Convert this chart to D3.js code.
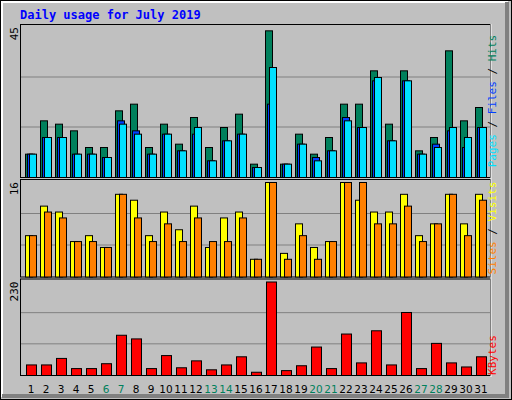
<!DOCTYPE html>
<html><head><meta charset="utf-8">
<script src="https://cdn.jsdelivr.net/npm/d3@7"></script>
<style>body{margin:0}svg{display:block}</style></head>
<body><svg id="c" width="512" height="400"></svg>
<script>
const days = d3.range(1,32);
const weekends = [6,7,13,14,20,21,27,28];
const hits  = [7,17,16,14,9,9,20,22,9,16,10,18,9,15,19,4,44,4,13,7,12,22,22,32,16,32,8,12,38,17,21];
const files = [7,12,12,7,7,6,16,13,7,13,8,15,5,11,13,3,33,4,10,5,8,17,15,30,11,29,7,9,15,12,15];
const pages = [7,12,12,7,7,6,17,14,7,13,8,13,5,11,13,3,22,4,10,6,8,18,15,29,11,29,7,10,14,9,15];
const visits= [7,12,11,6,7,5,14,13,7,11,8,12,5,10,11,3,16,4,9,5,6,16,13,11,11,14,7,9,14,9,14];
const sites = [7,11,10,6,6,5,14,10,6,9,6,10,6,6,10,3,16,3,7,3,6,16,16,9,9,12,6,9,14,7,13];
const kbytes= [26,26,42,17,17,29,99,90,17,49,19,36,14,26,46,8,230,12,24,70,17,102,31,110,26,155,17,79,31,21,46];
const maxLabels = ["45","16","230"];

const svg = d3.select("#c");
svg.append("rect").attr("width",512).attr("height",400).attr("fill","#c0c0c0");
svg.append("rect").attr("x",0.5).attr("y",0.5).attr("width",511).attr("height",399).attr("fill","none").attr("stroke","#000");
svg.append("path").attr("d","M2,397V2H508").attr("stroke","#fff").attr("fill","none").attr("stroke-width",2);
svg.append("path").attr("d","M507,2V396H2").attr("stroke","#808080").attr("fill","none").attr("stroke-width",4);
svg.append("text").attr("x",20).attr("y",19).text("Daily usage for July 2019")
  .attr("font-family","DejaVu Sans Mono").attr("font-weight","bold").attr("font-size",12).attr("fill","#0000ff");

const x = d3.scaleLinear().domain([1,32]).range([25,490]);
const panels = [
  {top:25,bot:177,max:45},
  {top:180,bot:276.5,max:16},
  {top:279.5,bot:375,max:230}
];
panels.forEach(p=>{
  p.y = d3.scaleLinear().domain([0,p.max]).range([p.bot,p.top+2]);
  svg.append("rect").attr("x",20.5).attr("y",p.top-20>0?p.top-0.5:p.top).attr("width",470).attr("height",p.bot-p.top+1)
    .attr("fill","#c0c0c0").attr("stroke","#000");
  [1/3,2/3].forEach(f=>{
    svg.append("line").attr("x1",21).attr("x2",490).attr("y1",p.y(p.max*f)).attr("y2",p.y(p.max*f)).attr("stroke","#808080");
  });
});
// left-side light frame lines
svg.append("line").attr("x1",491).attr("x2",491).attr("y1",24).attr("y2",377).attr("stroke","#fff");

function bars(data,panel,off,w,color){
  svg.append("g").selectAll("rect").data(data).join("rect")
    .attr("x",(d,i)=>x(i+1)+off+0.5).attr("width",w)
    .attr("y",d=>panel.y(d)+0.5).attr("height",d=>panel.bot-panel.y(d))
    .attr("fill",color).attr("stroke","#000");
}
bars(hits,panels[0],0,7,"#00805c");
bars(pages,panels[0],2,7,"#0040ff");
bars(files,panels[0],4,7,"#00e0ff");
bars(visits,panels[1],0,7,"#ffff00");
bars(sites,panels[1],4,7,"#ff8000");
bars(kbytes,panels[2],1,10,"#ff0000");

panels.forEach((p,i)=>{
  svg.append("text").attr("transform",`translate(18,${p.top+2}) rotate(-90)`).attr("text-anchor","end")
    .attr("font-family","DejaVu Sans Mono").attr("font-size",11).text(maxLabels[i]);
});
svg.append("g").selectAll("text").data(days).join("text")
  .attr("x",d=>x(d)+6).attr("y",393).attr("text-anchor","middle")
  .attr("font-family","DejaVu Sans").attr("font-size",10.5)
  .attr("fill",d=>weekends.includes(d)?"#00805c":"#000").text(d=>d);

function sideLabel(yc,parts){
  const t = svg.append("text").attr("transform",`translate(496,${yc}) rotate(90)`).attr("text-anchor","middle")
    .attr("font-family","DejaVu Sans Mono").attr("font-size",11);
  parts.forEach(([s,c])=>t.append("tspan").text(s).attr("fill",c));
}
sideLabel(101,[["Pages","#00e0ff"],[" / ","#000"],["Files","#0040ff"],[" / ","#000"],["Hits","#00805c"]]);
sideLabel(228,[["Sites","#ff8000"],[" / ","#000"],["Visits","#ffff00"]]);
sideLabel(355,[["KBytes","#ff0000"]]);
svg.selectAll("text[transform*='rotate(90)']").attr("transform",function(){return d3.select(this).attr("transform").replace("rotate(90)","rotate(-90)")});
</script></body></html>
